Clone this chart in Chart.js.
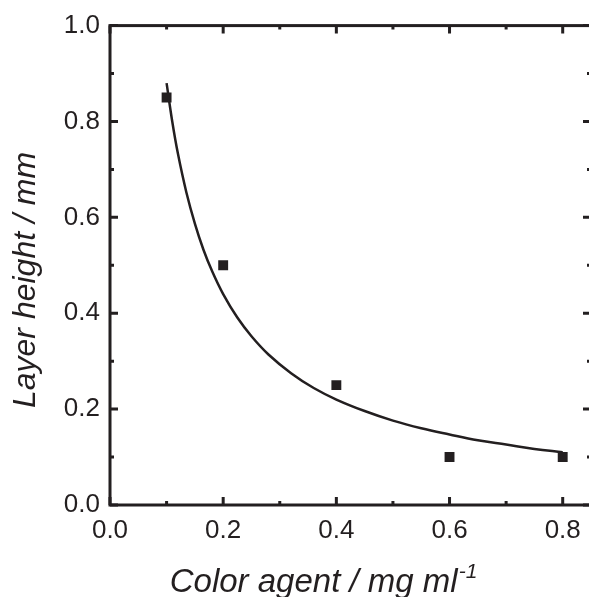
<!DOCTYPE html>
<html>
<head>
<meta charset="utf-8">
<script src="https://cdn.jsdelivr.net/npm/chart.js@4/dist/chart.umd.min.js"></script>
<style>
  html, body { margin: 0; padding: 0; background: #fff; overflow: hidden; }
  #wrap { position: relative; width: 600px; height: 597px; }
</style>
</head>
<body>
<div id="wrap"><canvas id="chart"></canvas></div>
<script>
// measured points
const concX = [0.1, 0.2, 0.4, 0.6, 0.8]
const heightY = [0.85, 0.5, 0.25, 0.1, 0.1]

// fitted curve
const fitX = [0.1, 0.11, 0.12, 0.135, 0.15, 0.165, 0.18, 0.2, 0.225, 0.25, 0.28, 0.32, 0.36, 0.4, 0.45, 0.5, 0.55, 0.6, 0.65, 0.7, 0.75, 0.8]
const fitY = [0.88, 0.80, 0.733, 0.652, 0.587, 0.533, 0.489, 0.44, 0.391, 0.352, 0.314, 0.275, 0.244, 0.22, 0.196, 0.176, 0.16, 0.147, 0.135, 0.126, 0.117, 0.11]

const xTicks = [0, 0.2, 0.4, 0.6, 0.8]
const yTicks = [0, 0.2, 0.4, 0.6, 0.8, 1.0]
const xMinor = [0.1, 0.3, 0.5, 0.7]
const yMinor = [0.1, 0.3, 0.5, 0.7, 0.9]

const ink = '#231f20'
const fam = '"Liberation Sans", Arial, sans-serif'
const labelFont = { family: fam, size: 26 }

const frame = {
  id: 'frame',
  afterDraw(chart) {
    const {ctx, chartArea: a, scales: {x, y}} = chart
    ctx.save()
    ctx.strokeStyle = ink
    ctx.lineWidth = 3
    ctx.strokeRect(a.left, a.top, a.right - a.left, a.bottom - a.top)
    const tick = (vals, len) => {
      vals.forEach(v => {
        const px = x.getPixelForValue(v)
        ctx.beginPath()
        ctx.moveTo(px, a.bottom); ctx.lineTo(px, a.bottom - len)
        ctx.moveTo(px, a.top); ctx.lineTo(px, a.top + len)
        ctx.stroke()
      })
    }
    const tickY = (vals, len) => {
      vals.forEach(v => {
        const py = y.getPixelForValue(v)
        ctx.beginPath()
        ctx.moveTo(a.left, py); ctx.lineTo(a.left + len, py)
        ctx.moveTo(a.right, py); ctx.lineTo(a.right - len, py)
        ctx.stroke()
      })
    }
    tick(xTicks, 8); tick(xMinor, 4)
    tickY(yTicks, 8); tickY(yMinor, 4)

    // axis titles
    ctx.fillStyle = ink
    ctx.textBaseline = 'alphabetic'
    ctx.textAlign = 'left'
    const main = 'Color agent / mg ml'
    ctx.font = 'italic 33px ' + fam
    const w = ctx.measureText(main).width
    ctx.font = 'italic 21px ' + fam
    const sw = ctx.measureText('-1').width
    const sx = 323 - (w + sw) / 2
    ctx.font = 'italic 33px ' + fam
    ctx.fillText(main, sx, 592)
    ctx.font = 'italic 21px ' + fam
    ctx.fillText('-1', sx + w + 1, 578)

    ctx.translate(35, 280)
    ctx.rotate(-Math.PI / 2)
    ctx.font = 'italic 32px ' + fam
    ctx.textAlign = 'center'
    ctx.fillText('Layer height / mm', 0, 0)
    ctx.restore()
  }
}

new Chart(document.getElementById('chart'), {
  type: 'scatter',
  data: {
    datasets: [
      {
        label: 'fit',
        type: 'line',
        data: fitX.map((v, i) => ({x: v, y: fitY[i]})),
        borderColor: ink,
        borderWidth: 2.5,
        pointRadius: 0,
        tension: 0.4,
        fill: false,
      },
      {
        label: 'data',
        data: concX.map((v, i) => ({x: v, y: heightY[i]})),
        pointStyle: 'rect',
        pointRadius: 7,
        backgroundColor: ink,
        borderWidth: 0,
      },
    ],
  },
  options: {
    responsive: true,
    maintainAspectRatio: false,
    animation: false,
    events: [],
    layout: { padding: { top: 25, right: 9, left: 0, bottom: 0 } },
    plugins: { legend: { display: false }, tooltip: { enabled: false } },
    scales: {
      x: {
        type: 'linear',
        min: 0,
        max: 0.85,
        grid: { display: false, drawTicks: false },
        border: { display: false },
        afterBuildTicks: (s) => { s.ticks = xTicks.map(v => ({value: v})) },
        afterFit: (s) => { s.height = 92 },
        ticks: {
          color: ink,
          font: labelFont,
          padding: 10,
          maxRotation: 0,
          callback: (v) => Number(v).toFixed(1),
        },
      },
      y: {
        min: 0,
        max: 1,
        grid: { display: false, drawTicks: false },
        border: { display: false },
        afterBuildTicks: (s) => { s.ticks = yTicks.map(v => ({value: v})) },
        afterFit: (s) => { s.width = 110 },
        ticks: {
          color: ink,
          font: labelFont,
          padding: 10,
          callback: (v) => Number(v).toFixed(1),
        },
      },
    },
  },
  plugins: [frame],
})
</script>
</body>
</html>
